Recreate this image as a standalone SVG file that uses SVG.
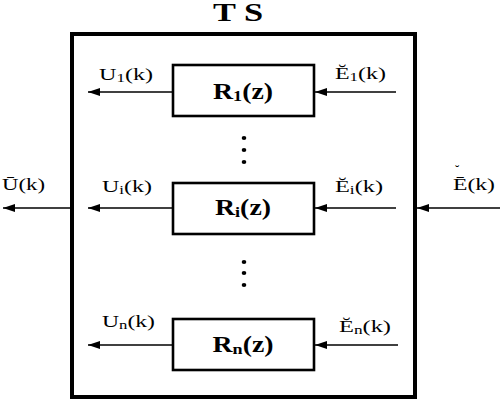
<svg xmlns="http://www.w3.org/2000/svg" width="500" height="400" viewBox="0 0 500 400">
<defs>
<marker id="ah" markerWidth="12" markerHeight="8" refX="12" refY="4" orient="auto" markerUnits="userSpaceOnUse">
<path d="M0,0 L12,4 L0,8 Z" fill="#000"/>
</marker>
<style>
.box{fill:#fff;stroke:#000;stroke-width:2.6}
.outer{fill:none;stroke:#000;stroke-width:4}
.ln{stroke:#000;stroke-width:1.3;fill:none;marker-end:url(#ah)}
.lbl{font-family:"Liberation Serif","Times New Roman",serif;font-size:17px;fill:#000}
.rl{font-family:"Liberation Serif","Times New Roman",serif;font-size:23px;font-weight:bold;fill:#000}
.sub{font-size:12px}
.rsub{font-size:15px}
</style>
</defs>
<rect width="500" height="400" fill="#fff"/>
<g id="ts">
<rect class="outer" x="72" y="34" width="343" height="363"/>
<text x="238" y="21" text-anchor="middle" font-family="Liberation Serif, serif" font-size="25" font-weight="bold" textLength="50" lengthAdjust="spacingAndGlyphs">T S</text>
</g>
<g id="connectors">
<line class="ln" x1="173" y1="92" x2="88" y2="92"/>
<line class="ln" x1="396" y1="92" x2="315" y2="92"/>
<line class="ln" x1="173" y1="208" x2="88" y2="208"/>
<line class="ln" x1="396" y1="208" x2="315" y2="208"/>
<line class="ln" x1="173" y1="345" x2="88" y2="345"/>
<line class="ln" x1="398" y1="345" x2="315" y2="345"/>
<line class="ln" x1="70" y1="208" x2="3" y2="208"/>
<line class="ln" x1="500" y1="208" x2="417" y2="208"/>
</g>
<g id="r1">
<rect class="box" x="173" y="65" width="141" height="51"/>
<text class="rl" x="243" y="99" text-anchor="middle" textLength="60" lengthAdjust="spacingAndGlyphs">R<tspan class="rsub" dy="2">1</tspan><tspan dy="-2">(z)</tspan></text>
</g>
<g id="ri">
<rect class="box" x="173" y="183" width="141" height="51"/>
<text class="rl" x="243" y="215" text-anchor="middle" textLength="56" lengthAdjust="spacingAndGlyphs">R<tspan class="rsub" dy="2">i</tspan><tspan dy="-2">(z)</tspan></text>
</g>
<g id="rn">
<rect class="box" x="173" y="319" width="141" height="51"/>
<text class="rl" x="243" y="352" text-anchor="middle" textLength="61" lengthAdjust="spacingAndGlyphs">R<tspan class="rsub" dy="2">n</tspan><tspan dy="-2">(z)</tspan></text>
</g>
<g id="dots" fill="#000">
<ellipse cx="244" cy="138" rx="2.3" ry="2"/>
<ellipse cx="244" cy="150" rx="2.3" ry="2"/>
<ellipse cx="244" cy="162" rx="2.3" ry="2"/>
<ellipse cx="244" cy="262" rx="2.3" ry="2"/>
<ellipse cx="244" cy="273" rx="2.3" ry="2"/>
<ellipse cx="244" cy="285" rx="2.3" ry="2"/>
</g>
<g id="labels">
<text class="lbl" x="99" y="80" textLength="54" lengthAdjust="spacingAndGlyphs">U<tspan class="sub" dy="2">1</tspan><tspan dy="-2">(k)</tspan></text>
<text class="lbl" x="102" y="192" textLength="50" lengthAdjust="spacingAndGlyphs">U<tspan class="sub" dy="2">i</tspan><tspan dy="-2">(k)</tspan></text>
<text class="lbl" x="102" y="327" textLength="53" lengthAdjust="spacingAndGlyphs">U<tspan class="sub" dy="2">n</tspan><tspan dy="-2">(k)</tspan></text>
<text class="lbl" x="335" y="79" textLength="51" lengthAdjust="spacingAndGlyphs">Ĕ<tspan class="sub" dy="2">1</tspan><tspan dy="-2">(k)</tspan></text>
<text class="lbl" x="335" y="192" textLength="48" lengthAdjust="spacingAndGlyphs">Ĕ<tspan class="sub" dy="2">i</tspan><tspan dy="-2">(k)</tspan></text>
<text class="lbl" x="339" y="332" textLength="52" lengthAdjust="spacingAndGlyphs">Ĕ<tspan class="sub" dy="2">n</tspan><tspan dy="-2">(k)</tspan></text>
<text class="lbl"><tspan x="453" y="190" textLength="42" lengthAdjust="spacingAndGlyphs">Ē(k)</tspan><tspan x="455" y="174" font-size="13">˘</tspan></text>
<text class="lbl" x="2" y="190" textLength="43" lengthAdjust="spacingAndGlyphs">Ū(k)</text>
</g>
</svg>
